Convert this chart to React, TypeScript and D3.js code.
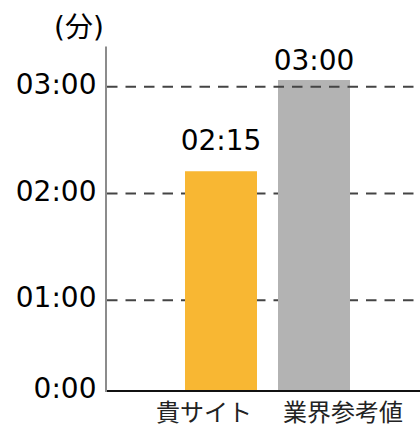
import React from "react";
import * as d3 from "d3";

const categories = ["貴サイト", "業界参考値"];
const values = [132.5, 183.75]; // minutes, as drawn
const labelValues = [135, 180]; // minutes, as labelled
const valueLabels = ["02:15", "03:00"];
const tickValues = [0, 60, 120, 180];
const tickLabels = ["0:00", "01:00", "02:00", "03:00"];
const colors = ["#F8B733", "#B3B3B3"];
const unitLabel = "(分)";

const W = 420;
const H = 426;
const axisX = 106;
const FONT = "'DejaVu Sans', 'Noto Sans CJK JP', sans-serif";

export default function App() {
  const y = d3.scaleLinear().domain(tickValues).range([391, 300.2, 193.5, 86.7]);
  const x = d3.scaleBand<string>().domain(categories).range([185, 350]).paddingInner(0.226).paddingOuter(0);
  const xl = d3.scalePoint<string>().domain(categories).range([204, 343]);
  const gridBehind = tickValues.slice(1, -1);
  const gridFront = tickValues.slice(-1);

  const gridLine = (t: number) => (
    <line
      key={"g" + t}
      x1={axisX + 1}
      x2={W}
      y1={y(t)}
      y2={y(t)}
      stroke="#444"
      strokeWidth={2}
      strokeDasharray="10.5 8"
    />
  );

  return (
    <svg width={W} height={H} style={{ position: "absolute", left: 0, top: 0 }} fontFamily={FONT}>
      <rect width={W} height={H} fill="#fff" />
      <text x={79} y={37} fontSize={28} textAnchor="middle" fill="#000">{unitLabel}</text>
      {gridBehind.map(gridLine)}
      {categories.map((c, i) => (
        <rect key={c} x={x(c)} y={y(values[i])} width={x.bandwidth()} height={y(0) - y(values[i])} fill={colors[i]} />
      ))}
      {gridFront.map(gridLine)}
      {categories.map((c, i) => (
        <text key={"v" + c} x={(x(c) as number) + x.bandwidth() / 2} y={y(labelValues[i]) - 16.5} fontSize={28} textAnchor="middle" fill="#000">
          {valueLabels[i]}
        </text>
      ))}
      {tickValues.map((t, i) => (
        <text key={"t" + t} x={96.5} y={y(t) + 7} fontSize={28} textAnchor="end" fill="#000">
          {tickLabels[i]}
        </text>
      ))}
      <line x1={axisX} x2={axisX} y1={46.5} y2={392} stroke="#8c8c8c" strokeWidth={2} />
      <line x1={axisX + 1} x2={W} y1={y(0)} y2={y(0)} stroke="#111" strokeWidth={2} />
      {categories.map((c) => (
        <text key={"c" + c} x={xl(c)} y={421} fontSize={24} textAnchor="middle" fill="#222">
          {c}
        </text>
      ))}
    </svg>
  );
}
